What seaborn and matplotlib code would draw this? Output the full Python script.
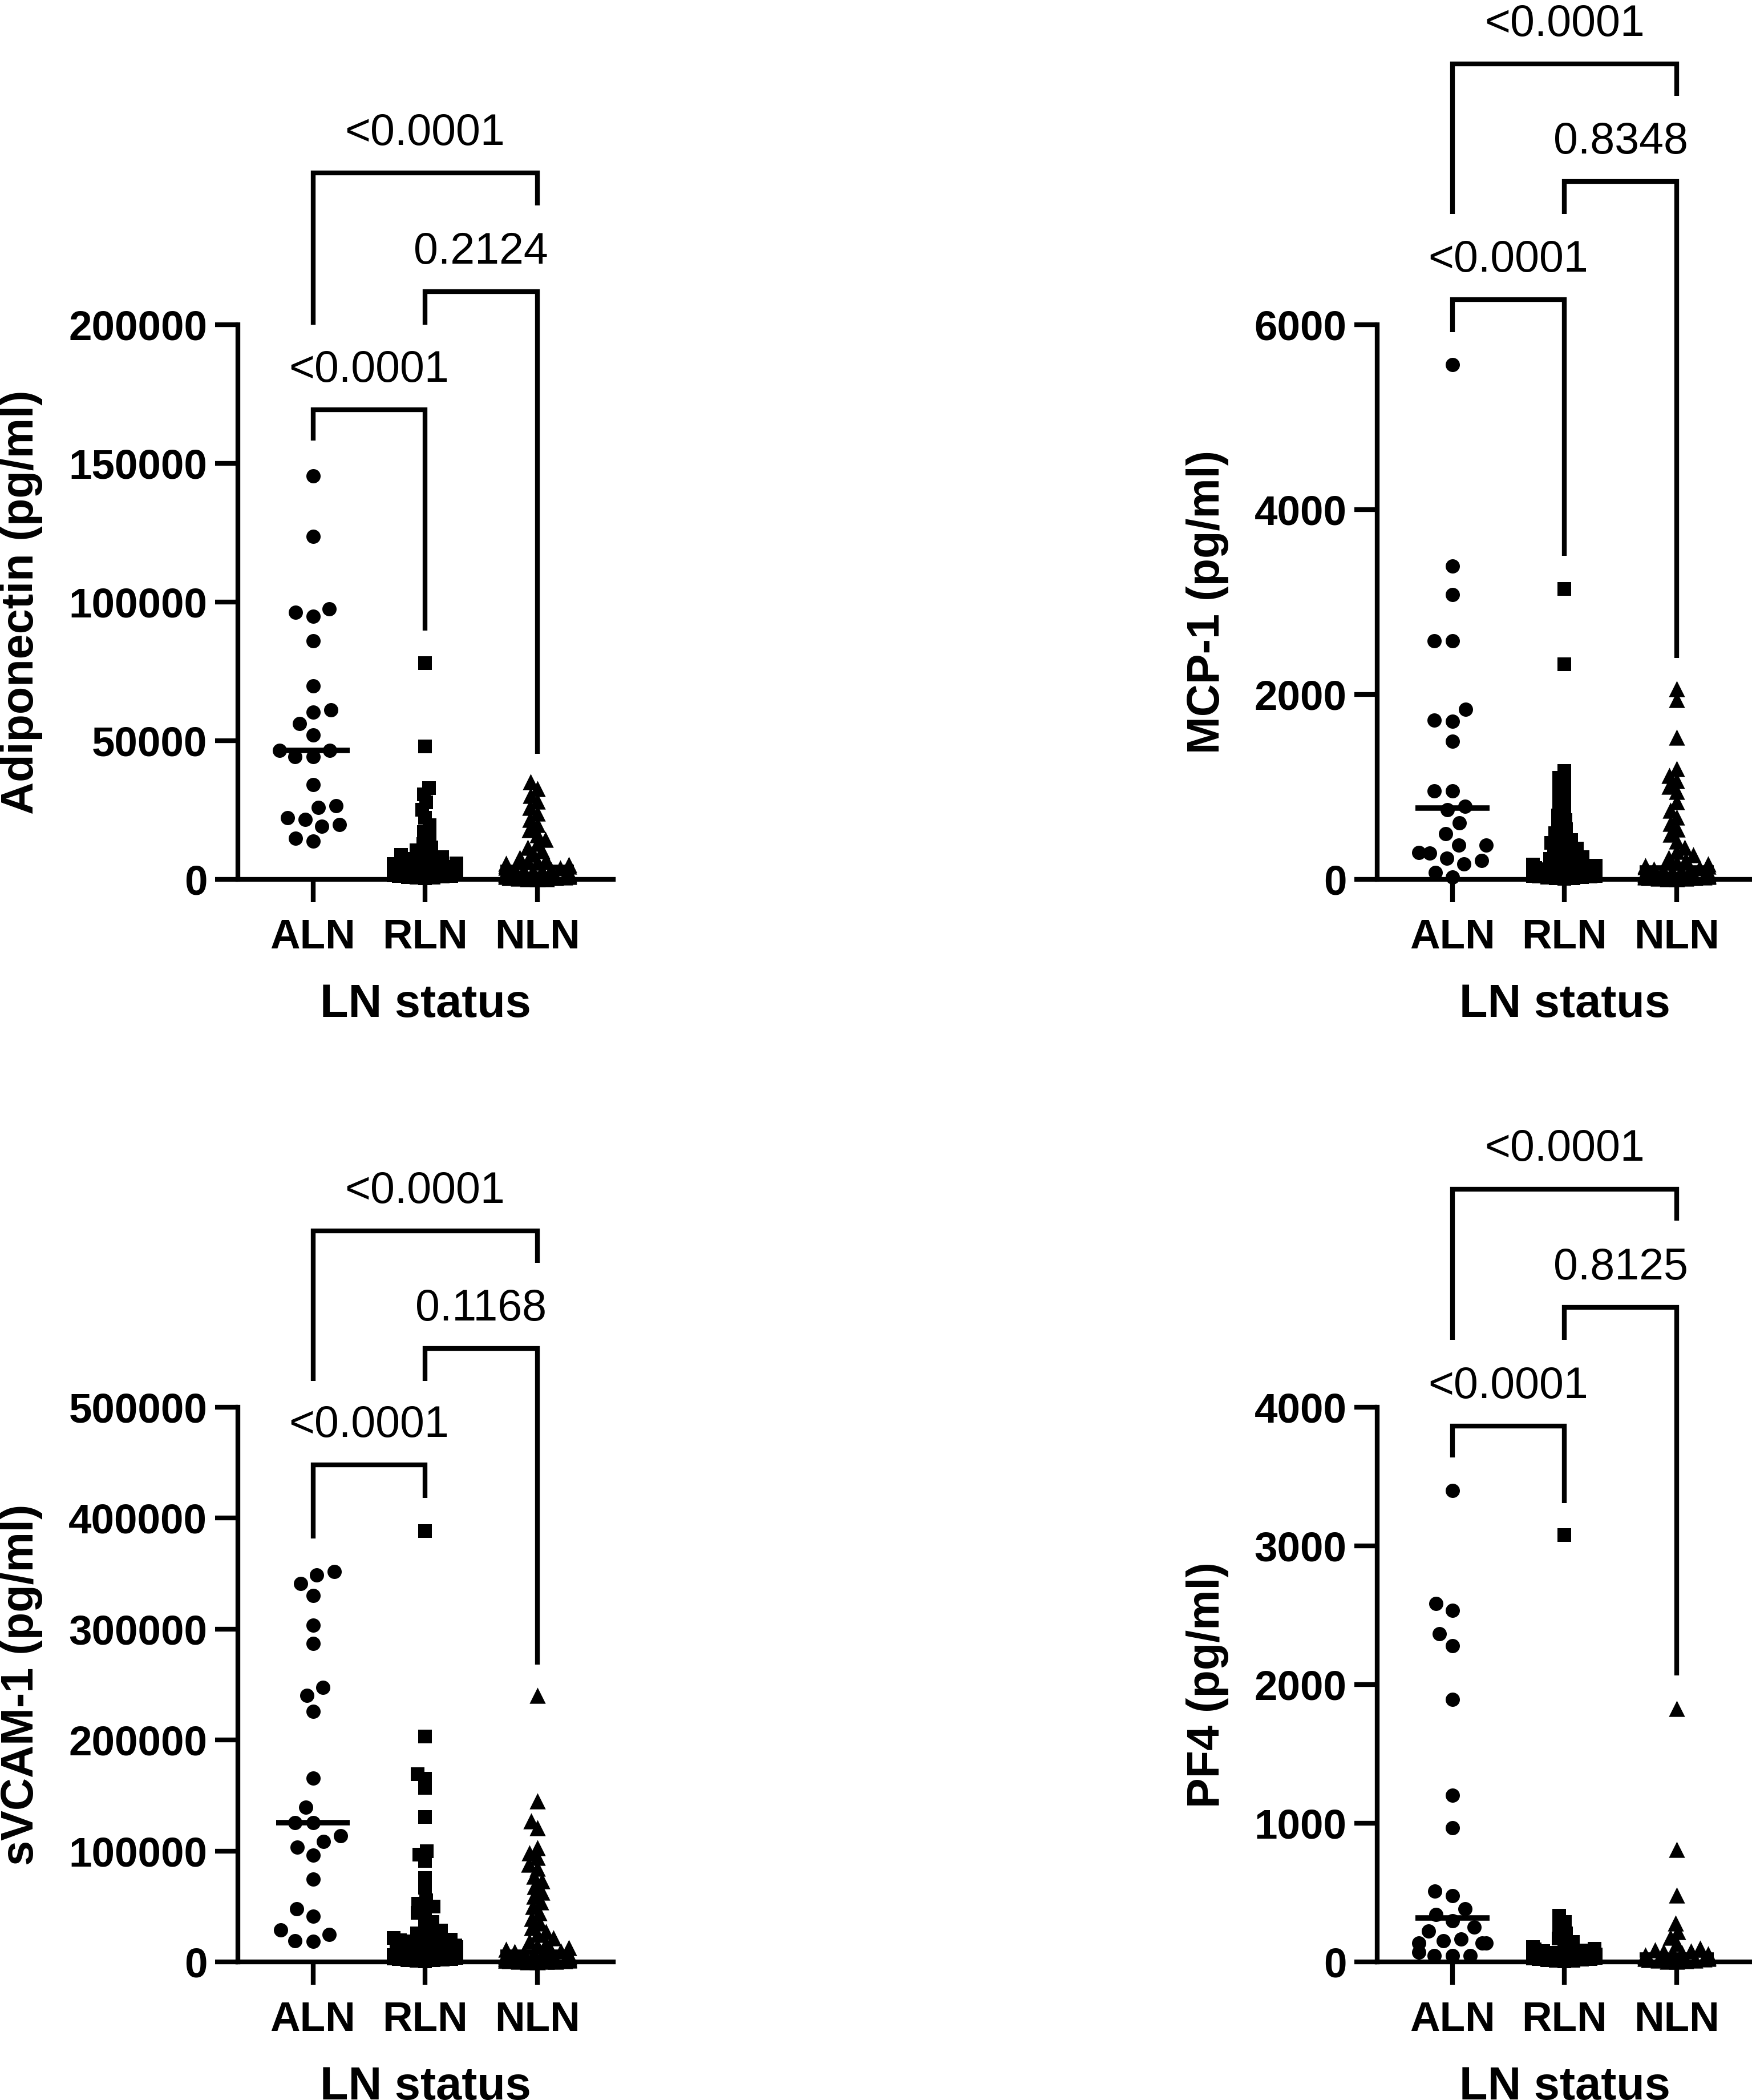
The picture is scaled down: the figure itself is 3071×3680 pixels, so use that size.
import numpy as np
import pandas as pd
import matplotlib
matplotlib.use('Agg')
import matplotlib.pyplot as plt
import seaborn as sns


GRUPOS = ['ALN', 'RLN', 'NLN']
MARCADORES = {'ALN': 'o', 'RLN': 's', 'NLN': '^'}
# tamanho final do marcador (pt) e tamanho usado so para arrumar o swarm
TAMANHOS = {'ALN': 6.0, 'RLN': 5.8, 'NLN': 6.8}
TAM_SWARM = {'ALN': 7.2, 'RLN': 3.5, 'NLN': 3.7}

# Adiponectin (pg/ml)
adipo_aln = [145500, 123600, 97600, 96200, 94900, 86000, 69700, 61200, 60300, 56100, 52100, 46500,
             46500, 44300, 44300, 34200, 26500, 26000, 22200, 21700, 19700, 19100, 14900, 13700]
adipo_rln = [78000, 48000, 33000, 30600, 27700, 25100, 22300, 19500, 17100, 14800, 12700, 11600,
             10500, 9600, 8800, 8100, 7400, 6900, 6500, 6100, 5800, 5500, 5200, 4900, 4600, 4300,
             4050, 3800, 3500, 3300, 3000, 2800, 2600, 2350, 2200, 2000, 1800, 1600, 1450, 1300,
             1150, 1000, 850, 700, 560, 420]
adipo_nln = [35100, 32800, 30300, 28100, 25900, 23800, 21600, 19700, 17800, 16100, 14400, 12900,
             11500, 10200, 9000, 7900, 7000, 6500, 6100, 5700, 5300, 5000, 4700, 4400, 4100, 3800,
             3500, 3300, 3100, 2900, 2700, 2500, 2300, 2100, 1900, 1700, 1550, 1400, 1250, 1100,
             950, 800, 650, 520, 400, 300, 200, 120]
adipo_ticks = [0, 50000, 100000, 150000, 200000]
# (grupo a, grupo b, altura da barra, fim da perna a, fim da perna b, texto)
adipo_brackets = [('ALN', 'RLN', 169300, 158150, 89800, '<0.0001'),
                  ('RLN', 'NLN', 212000, 200100, 45300, '0.2124'),
                  ('ALN', 'NLN', 254800, 200100, 243000, '<0.0001')]

# MCP-1 (pg/ml)
mcp_aln = [5566, 3386, 3080, 2579, 2579, 1839, 1721, 1711, 1496, 955, 955, 790,
           750, 613, 495, 373, 368, 291, 281, 230, 204, 169, 77, 26]
mcp_rln = [3140, 2330, 1170, 1100, 1030, 960, 890, 820, 750, 690, 640, 590, 545, 500, 460, 425,
           395, 365, 335, 310, 285, 260, 240, 220, 200, 185, 172, 160, 150, 140, 131, 122, 114,
           106, 98, 91, 84, 77, 70, 64, 58, 52, 46, 40, 35, 30, 25, 20, 15, 11, 7,
           118, 95, 73, 55, 33]
mcp_nln = [2060, 1945, 1540, 1195, 1125, 1065, 1005, 950, 840, 745, 675, 605, 545, 485, 415, 345,
           300, 265, 235, 210, 188, 168, 150, 135, 121, 109, 98, 88, 79, 71, 64, 57, 51, 45, 40,
           35, 30, 26, 22, 18, 14, 10, 7, 143, 112, 92, 68, 48, 33, 16, 5]
mcp_ticks = [0, 2000, 4000, 6000]
mcp_brackets = [('ALN', 'RLN', 6272, 5921, 3497, '<0.0001'),
                ('RLN', 'NLN', 7551, 7197, 2398, '0.8348'),
                ('ALN', 'NLN', 8822, 7197, 8474, '<0.0001')]

# sVCAM-1 (pg/ml)
svcam_aln = [351700, 348800, 341300, 330000, 303700, 287000, 247300, 240200, 225600, 165800,
             139500, 125300, 125300, 113600, 108600, 103200, 96100, 74800, 48000, 41400, 28800,
             24600, 19200, 18400]
svcam_rln = [388500, 203000, 169000, 165000, 157000, 130500, 100000, 96500, 91000, 75400, 67000,
             55500, 52400, 49700, 47800, 44000, 40000, 36000, 32000, 28500, 25700, 25000, 23000,
             21500, 20000, 19500, 18500, 18300, 17000, 15800, 14600, 13500, 12500, 11600, 10700,
             9900, 9100, 8400, 7700, 7000, 6400, 5800, 5200, 4700, 4200, 3700, 3200, 2800, 2400,
             2000, 1600, 1300, 1000, 700]
svcam_nln = [240000, 145000, 127000, 121000, 103000, 98000, 94000, 88000, 84500, 77000, 73000,
             68000, 63000, 59000, 54000, 50000, 44000, 39000, 35000, 31000, 27500, 24500, 21500,
             18500, 16500, 14500, 12800, 11300, 10000, 8800, 7900, 7300, 6700, 6200, 5700, 5200,
             4800, 4400, 4000, 3600, 3300, 3000, 2700, 2400, 2100, 1800, 1500, 1300, 1100, 900,
             700, 550, 400, 250, 150, 9500, 8300, 6900, 5000, 3800, 2600]
svcam_ticks = [0, 100000, 200000, 300000, 400000, 500000]
svcam_brackets = [('ALN', 'RLN', 447800, 381800, 418400, '<0.0001'),
                  ('RLN', 'NLN', 552900, 523600, 268200, '0.1168'),
                  ('ALN', 'NLN', 658700, 523600, 630000, '<0.0001')]

# PF4 (pg/ml)
pf4_aln = [3400, 2585, 2534, 2366, 2281, 1894, 1203, 967, 511, 479, 381, 340,
           295, 249, 222, 164, 151, 137, 137, 137, 71, 44, 44, 44]
pf4_rln = [3080, 335, 290, 245, 205, 170, 145, 125, 108, 96, 90, 84, 78, 72, 67, 62, 57, 52,
           48, 44, 40, 36, 32, 28, 25, 22, 19, 16, 13, 10, 7, 4]
pf4_nln = [1826, 809, 482, 281, 219, 178, 130, 100, 88, 80, 73, 67, 61, 56, 51, 47, 43, 39,
           35, 32, 29, 26, 23, 20, 17, 14, 11, 8, 5, 3]
pf4_ticks = [0, 1000, 2000, 3000, 4000]
pf4_brackets = [('ALN', 'RLN', 3865, 3638, 3308, '<0.0001'),
                ('RLN', 'NLN', 4719, 4487, 2064, '0.8125'),
                ('ALN', 'NLN', 5574, 4487, 5344, '<0.0001')]

# posicao dos paineis em pixels: (esquerda, linha do zero, topo do eixo)
paineis = [
    ('Adiponectin (pg/ml)', [adipo_aln, adipo_rln, adipo_nln], adipo_ticks, adipo_brackets, (416.7, 1541, 0)),
    ('MCP-1 (pg/ml)', [mcp_aln, mcp_rln, mcp_nln], mcp_ticks, mcp_brackets, (2414, 1541, 0)),
    ('sVCAM-1 (pg/ml)', [svcam_aln, svcam_rln, svcam_nln], svcam_ticks, svcam_brackets, (416.7, 3438, 1900)),
    ('PF4 (pg/ml)', [pf4_aln, pf4_rln, pf4_nln], pf4_ticks, pf4_brackets, (2414, 3438, 1900)),
]

sns.set_style('ticks', rc={'axes.edgecolor': 'black', 'xtick.color': 'black', 'ytick.color': 'black',
                           'text.color': 'black', 'axes.labelcolor': 'black'})
plt.rcParams['font.family'] = ['Liberation Sans', 'DejaVu Sans']

W, H, DPI = 3071, 3680, 300
SPAN_PX = 972      # pixels entre 0 e o ultimo tick
CAT_PX = 196.5     # pixels entre categorias
XMIN, XMAX = -0.671, 2.681
LW = 2.0
MEIA_LARGURA = {'ALN': 0.30, 'RLN': 0.28, 'NLN': 0.28}

fig = plt.figure(figsize=(W / DPI, H / DPI), dpi=DPI)
fig.patch.set_facecolor('white')

swarms = []
for ylabel, valores, ticks, brackets, (esq, zero, topo) in paineis:
    ax_w = (XMAX - XMIN) * CAT_PX
    ax = fig.add_axes([esq / W, 1 - zero / H, ax_w / W, (zero - topo) / H])
    ax.set_facecolor('none')

    for i, (g, vals) in enumerate(zip(GRUPOS, valores)):
        df = pd.DataFrame({'grupo': [g] * len(vals), 'valor': vals})
        n_antes = len(ax.collections)
        sns.swarmplot(data=df, x='grupo', y='valor', order=GRUPOS, marker=MARCADORES[g],
                      size=TAM_SWARM[g], color='black', linewidth=0, warn_thresh=1,
                      legend=False, ax=ax)
        for coll in ax.collections[n_antes:]:
            if len(coll.get_offsets()) > 0:
                coll.set_clip_on(False)
                coll.set_zorder(4)
                swarms.append((coll, i, g))
        # linha da mediana
        med = np.median(vals)
        ax.plot([i - 0.33, i + 0.33], [med, med], color='black', lw=2.3,
                solid_capstyle='butt', zorder=5, clip_on=False)

    # brackets com p-valores
    for a, b, ybar, fim_a, fim_b, txt in brackets:
        xa, xb = GRUPOS.index(a), GRUPOS.index(b)
        ax.plot([xa, xa, xb, xb], [fim_a, ybar, ybar, fim_b], color='black', lw=LW,
                solid_joinstyle='miter', solid_capstyle='butt', clip_on=False, zorder=3)
        ax.annotate(txt, xy=((xa + xb) / 2, ybar), xytext=(0, 11.8), textcoords='offset points',
                    ha='center', va='baseline', fontsize=18.5, annotation_clip=False)

    ax.set_xlim(XMIN, XMAX)
    ax.set_ylim(0, ticks[-1] * (zero - topo) / SPAN_PX)
    ax.spines[['top', 'right']].set_visible(False)
    ax.spines['left'].set_bounds(0, ticks[-1])
    for s in ['left', 'bottom']:
        ax.spines[s].set_linewidth(LW)
        ax.spines[s].set_color('black')
    ax.set_yticks(ticks)
    ax.set_yticklabels([str(t) for t in ticks], fontweight='bold', fontsize=17.5)
    ax.set_xticks(range(len(GRUPOS)))
    ax.set_xticklabels(GRUPOS, fontweight='bold', fontsize=17.5)
    ax.tick_params(axis='both', direction='out', length=9.6, width=LW, color='black')
    ax.tick_params(axis='x', pad=6.7)
    ax.tick_params(axis='y', pad=3.2)
    ax.set_xlabel('LN status', fontsize=19.5, fontweight='bold', labelpad=11)
    ax.set_ylabel(ylabel, fontsize=19, fontweight='bold', labelpad=10.8)
    ax.yaxis.label.set_y(0.5 * SPAN_PX / (zero - topo))

# calcula o swarm uma vez (com marcador menor, deixando sobrepor como no GraphPad),
# limita a largura e depois aumenta o marcador
fig.canvas.draw()
for coll, centro, g in swarms:
    coll.__dict__.pop('draw', None)
    off = np.asarray(coll.get_offsets()).copy()
    off[:, 0] = np.clip(off[:, 0], centro - MEIA_LARGURA[g], centro + MEIA_LARGURA[g])
    coll.set_offsets(off)
    coll.set_sizes([TAMANHOS[g] ** 2])

fig.savefig('out.png', dpi=DPI, facecolor='white')
